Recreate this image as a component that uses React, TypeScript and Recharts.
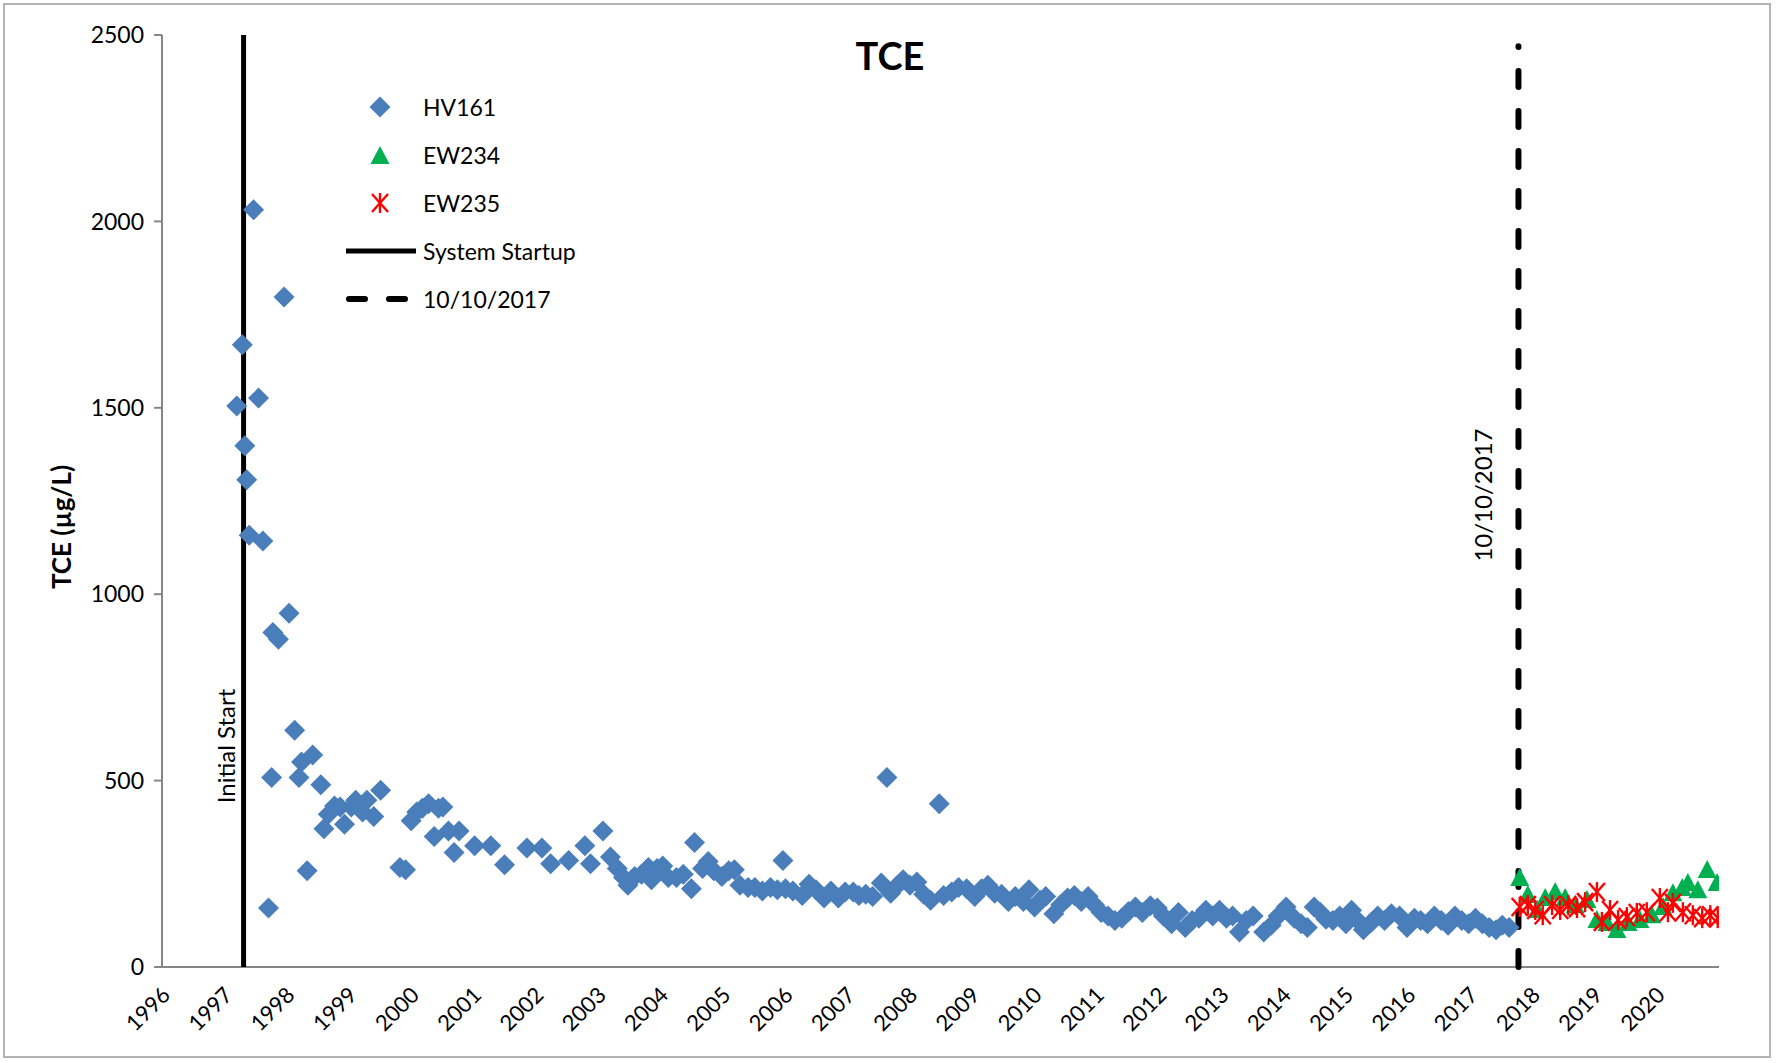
import { ScatterChart, Scatter, XAxis, YAxis, Legend } from 'recharts'

const FONT = 'Lato, "Open Sans", sans-serif'

const yearTicks = [1996, 1997, 1998, 1999, 2000, 2001, 2002, 2003, 2004, 2005, 2006, 2007, 2008, 2009, 2010, 2011, 2012, 2013, 2014, 2015, 2016, 2017, 2018, 2019, 2020]
const valueTicks = [0, 500, 1000, 1500, 2000, 2500]

// [decimal year, TCE ug/L]
const hv161: [number, number][] = [
  [1997.2, 1505], [1997.29, 1669], [1997.33, 1398], [1997.36, 1307], [1997.4, 1158], [1997.47, 2031],
  [1997.55, 1526], [1997.62, 1143], [1997.71, 158], [1997.76, 508], [1997.78, 897], [1997.87, 879],
  [1997.96, 1797], [1998.04, 949], [1998.13, 635], [1998.2, 508], [1998.24, 550], [1998.33, 258],
  [1998.42, 569], [1998.55, 489], [1998.6, 371], [1998.67, 410], [1998.77, 432], [1998.86, 429],
  [1998.93, 383], [1999.04, 429], [1999.11, 447], [1999.22, 416], [1999.29, 447], [1999.4, 404],
  [1999.51, 474], [1999.82, 267], [1999.91, 261], [2000.0, 392], [2000.09, 416], [2000.18, 426],
  [2000.28, 438], [2000.37, 350], [2000.44, 426], [2000.51, 429], [2000.6, 365], [2000.69, 307],
  [2000.77, 365], [2001.02, 325], [2001.28, 325], [2001.5, 274], [2001.86, 319], [2002.1, 319],
  [2002.24, 277], [2002.53, 286], [2002.79, 325], [2002.88, 277], [2003.08, 365], [2003.2, 295],
  [2003.31, 264], [2003.41, 240], [2003.48, 219], [2003.59, 243], [2003.7, 249], [2003.81, 267],
  [2003.86, 234], [2003.95, 264], [2004.04, 271], [2004.13, 240], [2004.26, 240], [2004.37, 249],
  [2004.5, 210], [2004.55, 334], [2004.68, 264], [2004.77, 283], [2004.86, 258], [2004.99, 243],
  [2005.1, 258], [2005.19, 261], [2005.28, 219], [2005.41, 213], [2005.52, 213], [2005.64, 204],
  [2005.77, 213], [2005.88, 207], [2005.97, 286], [2006.01, 210], [2006.13, 204], [2006.28, 192],
  [2006.39, 222], [2006.5, 207], [2006.63, 185], [2006.74, 204], [2006.86, 185], [2006.97, 201],
  [2007.1, 201], [2007.19, 192], [2007.3, 195], [2007.41, 189], [2007.55, 225], [2007.64, 508],
  [2007.7, 198], [2007.81, 219], [2007.9, 234], [2008.01, 219], [2008.12, 228], [2008.23, 195],
  [2008.34, 179], [2008.48, 438], [2008.55, 192], [2008.68, 201], [2008.79, 213], [2008.92, 210],
  [2009.05, 189], [2009.16, 210], [2009.26, 219], [2009.37, 198], [2009.48, 195], [2009.59, 176],
  [2009.7, 189], [2009.83, 176], [2009.92, 207], [2010.01, 161], [2010.1, 179], [2010.19, 189],
  [2010.32, 143], [2010.43, 167], [2010.54, 185], [2010.65, 192], [2010.76, 176], [2010.87, 189],
  [2010.97, 167], [2011.08, 146], [2011.19, 137], [2011.3, 125], [2011.41, 131], [2011.52, 149],
  [2011.63, 161], [2011.74, 146], [2011.87, 164], [2011.98, 158], [2012.08, 137], [2012.21, 116],
  [2012.32, 146], [2012.43, 106], [2012.54, 125], [2012.65, 131], [2012.76, 152], [2012.87, 137],
  [2012.98, 152], [2013.09, 131], [2013.19, 137], [2013.3, 94], [2013.41, 125], [2013.52, 137],
  [2013.69, 94], [2013.81, 112], [2013.92, 137], [2014.05, 161], [2014.18, 131], [2014.29, 116],
  [2014.39, 106], [2014.5, 161], [2014.6, 146], [2014.69, 128], [2014.8, 125], [2014.91, 137],
  [2015.01, 116], [2015.1, 152], [2015.2, 125], [2015.29, 100], [2015.41, 119], [2015.52, 137],
  [2015.63, 125], [2015.74, 143], [2015.87, 137], [2015.99, 106], [2016.11, 131], [2016.21, 125],
  [2016.32, 116], [2016.43, 137], [2016.54, 125], [2016.65, 112], [2016.76, 137], [2016.87, 125],
  [2016.98, 116], [2017.09, 131], [2017.2, 116], [2017.31, 106], [2017.42, 100], [2017.52, 112],
  [2017.63, 106],
]

const ew234: [number, number][] = [
  [2017.8, 239], [2017.93, 193], [2018.08, 153], [2018.21, 185], [2018.37, 201], [2018.53, 185],
  [2018.69, 166], [2018.88, 180], [2019.04, 126], [2019.2, 118], [2019.36, 99], [2019.54, 118],
  [2019.73, 126], [2019.92, 139], [2020.1, 161], [2020.26, 198], [2020.41, 212], [2020.5, 225],
  [2020.66, 206], [2020.81, 260], [2020.97, 225],
]

const ew235: [number, number][] = [
  [2017.8, 161], [2017.93, 166], [2018.05, 153], [2018.17, 139], [2018.32, 166], [2018.45, 153],
  [2018.58, 166], [2018.72, 158], [2018.85, 174], [2019.04, 201], [2019.12, 121], [2019.25, 153],
  [2019.38, 126], [2019.52, 134], [2019.68, 145], [2019.84, 147], [2020.05, 185], [2020.18, 147],
  [2020.26, 172], [2020.42, 147], [2020.58, 139], [2020.73, 131], [2020.86, 139], [2020.98, 131],
]

const startupYear = 1997.31
const cutoffYear = 2017.78
const startupSpan = [0, 2500]
const cutoffSpan = [0, 2470]

const legendItems = ['HV161', 'EW234', 'EW235', 'System Startup', '10/10/2017']

const toPoints = (rows: [number, number][]) => rows.map(([x, y]) => ({ x, y }))
const vline = (x: number, span: number[]) => span.map((y) => ({ x, y }))

const BLUE = '#4a7ebb'
const GREEN = '#00b050'
const RED = '#ff0000'

const Diamond = ({ cx, cy }: any) => (
  <path d={`M${cx},${cy - 10.5}L${cx + 10.5},${cy}L${cx},${cy + 10.5}L${cx - 10.5},${cy}Z`} fill={BLUE} />
)

const Triangle = ({ cx, cy }: any) => (
  <path d={`M${cx},${cy - 10}L${cx + 9.5},${cy + 8}L${cx - 9.5},${cy + 8}Z`} fill={GREEN} />
)

const Asterisk = ({ cx, cy }: any) => (
  <g stroke={RED} strokeWidth={2.4}>
    <line x1={cx - 8} y1={cy - 9} x2={cx + 8} y2={cy + 9} />
    <line x1={cx + 8} y1={cy - 9} x2={cx - 8} y2={cy + 9} />
    <line x1={cx} y1={cy - 10} x2={cx} y2={cy + 10} />
  </g>
)

const NoDot = () => <g />

const rotatedLabel = (text: string, dx: number) => ({ cx, cy }: any) => (
  <text
    transform={`translate(${cx + dx},${cy}) rotate(-90)`}
    textAnchor="middle"
    dy="0.35em"
    fontFamily={FONT}
    fontSize={24}
    fill="#000"
  >
    {text}
  </text>
)

const YearTick = ({ x, y, payload }: any) => (
  <g transform={`translate(${x + 4},${y + 22}) rotate(-45)`}>
    <text textAnchor="end" dy="0.35em" fontFamily={FONT} fontSize={22} fill="#000">
      {payload.value}
    </text>
  </g>
)

const legendMarker = (i: number) => {
  if (i === 0) return <Diamond cx={36} cy={11} />
  if (i === 1) return <Triangle cx={36} cy={12} />
  if (i === 2) return <Asterisk cx={36} cy={11} />
  if (i === 3) return <line x1={2} y1={11} x2={72} y2={11} stroke="#000" strokeWidth={5} />
  return <line x1={5} y1={11} x2={72} y2={11} stroke="#000" strokeWidth={6} strokeDasharray="16 24" strokeLinecap="round" />
}

const renderLegend = () => (
  <div style={{ fontFamily: FONT, fontSize: 23, color: '#000' }}>
    {legendItems.map((name, i) => (
      <div key={name} style={{ display: 'flex', alignItems: 'center', height: 48 }}>
        <svg width={76} height={22}>{legendMarker(i)}</svg>
        <span style={{ marginLeft: 3 }}>{name}</span>
      </div>
    ))}
  </div>
)

export default function App() {
  return (
    <div style={{ position: 'absolute', left: 0, top: 0, width: 1777, height: 1063, background: '#fff' }}>
      <div
        style={{
          position: 'absolute', left: 3, top: 3, width: 1768, height: 1055,
          border: '2px solid #b4b4b4', boxSizing: 'border-box',
        }}
      />
      <ScatterChart width={1777} height={1063} margin={{ top: 35, right: 58, bottom: 6, left: 0 }}>
        <XAxis
          type="number"
          dataKey="x"
          domain={[1996, 2021]}
          ticks={yearTicks}
          interval={0}
          allowDataOverflow
          height={90}
          tickLine={false}
          tickSize={0}
          axisLine={{ stroke: '#868686', strokeWidth: 2 }}
          tick={<YearTick />}
        />
        <YAxis
          type="number"
          dataKey="y"
          domain={[0, 2500]}
          ticks={valueTicks}
          interval={0}
          width={162}
          tickSize={8}
          tickMargin={10}
          axisLine={{ stroke: '#868686', strokeWidth: 2 }}
          tickLine={{ stroke: '#868686', strokeWidth: 2 }}
          tick={{ fill: '#000', fontSize: 23, fontFamily: FONT }}
        />
        <Legend
          layout="vertical"
          align="center"
          verticalAlign="middle"
          content={renderLegend}
          wrapperStyle={{ left: 344, top: 83, width: 'auto', height: 'auto' }}
        />
        <Scatter
          name="System Startup"
          data={vline(startupYear, startupSpan)}
          line={{ stroke: '#000', strokeWidth: 5 }}
          shape={NoDot}
          isAnimationActive={false}
        />
        <Scatter
          name="10/10/2017"
          data={vline(cutoffYear, cutoffSpan)}
          line={{ stroke: '#000', strokeWidth: 6, strokeDasharray: '16 24', strokeLinecap: 'round' }}
          shape={NoDot}
          isAnimationActive={false}
        />
        <Scatter name="HV161" data={toPoints(hv161)} shape={Diamond} isAnimationActive={false} />
        <Scatter name="EW234" data={toPoints(ew234)} shape={Triangle} isAnimationActive={false} />
        <Scatter name="EW235" data={toPoints(ew235)} shape={Asterisk} isAnimationActive={false} />
        <Scatter
          data={[{ x: startupYear, y: 593 }]}
          shape={rotatedLabel('Initial Start', -17)}
          isAnimationActive={false}
        />
        <Scatter
          data={[{ x: cutoffYear, y: 1266 }]}
          shape={rotatedLabel('10/10/2017', -35)}
          isAnimationActive={false}
        />
      </ScatterChart>
      <svg width={1777} height={1063} style={{ position: 'absolute', left: 0, top: 0, pointerEvents: 'none' }}>
        <text x={890} y={57} textAnchor="middle" dy="0.35em" fontFamily={FONT} fontWeight="bold" fontSize={38} fill="#000">
          TCE
        </text>
        <text
          transform="translate(62,527) rotate(-90)"
          textAnchor="middle"
          dy="0.35em"
          fontFamily={FONT}
          fontWeight="bold"
          fontSize={26}
          fill="#000"
        >
          TCE (µg/L)
        </text>
      </svg>
    </div>
  )
}
